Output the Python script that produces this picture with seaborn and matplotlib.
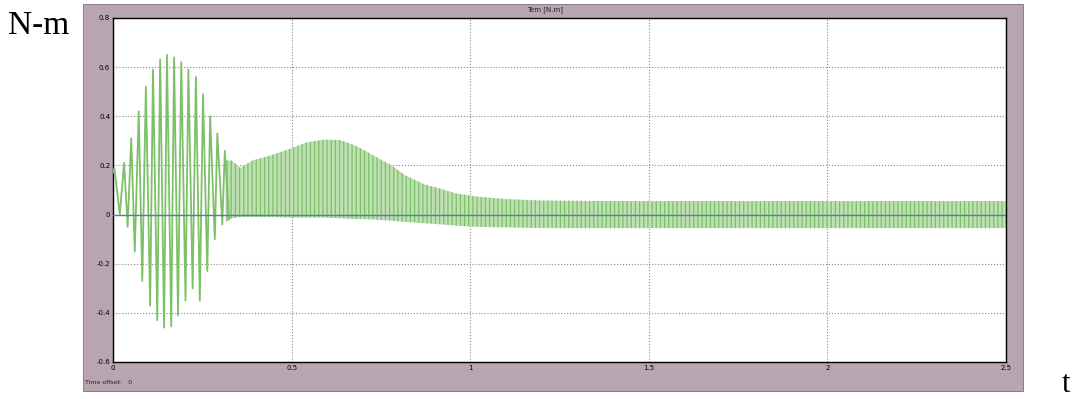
import numpy as np
import pandas as pd
import matplotlib
matplotlib.use("Agg")
import matplotlib.pyplot as plt
from matplotlib.patches import Rectangle
import seaborn as sns

# ---- data ----
title = "Tem [N.m]"
x_ticks = [0, 0.5, 1, 1.5, 2, 2.5]
x_labels = ["0", "0.5", "1", "1.5", "2", "2.5"]
y_ticks = [-0.6, -0.4, -0.2, 0, 0.2, 0.4, 0.6, 0.8]
y_labels = ["-0.6", "-0.4", "-0.2", "0", "0.2", "0.4", "0.6", "0.8"]

# start-up transient: individual peaks and troughs (s, N.m)
peak_t = [0.0, 0.004, 0.031, 0.051, 0.072, 0.092, 0.112, 0.132, 0.151, 0.171,
          0.191, 0.211, 0.232, 0.252, 0.272, 0.292, 0.313]
peak_v = [0.17, 0.19, 0.21, 0.31, 0.42, 0.52, 0.59, 0.63, 0.65, 0.64,
          0.62, 0.59, 0.56, 0.49, 0.40, 0.33, 0.26]
trough_t = [0.019, 0.041, 0.061, 0.082, 0.104, 0.124, 0.143, 0.163, 0.182,
            0.203, 0.223, 0.243, 0.264, 0.285, 0.306, 0.325]
trough_v = [0.0, -0.05, -0.15, -0.27, -0.37, -0.43, -0.46, -0.455, -0.41,
            -0.35, -0.30, -0.35, -0.23, -0.10, -0.04, -0.02]

# dense ripple afterwards: envelope of the band (s, N.m)
band_t = [0.315, 0.333, 0.356, 0.39, 0.44, 0.50, 0.54, 0.59, 0.636, 0.68,
          0.73, 0.78, 0.82, 0.87, 0.92, 0.96, 1.02, 1.10, 1.20, 1.40,
          1.60, 1.80, 2.00, 2.20, 2.40, 2.50]
band_hi = [0.22, 0.22, 0.19, 0.22, 0.24, 0.27, 0.293, 0.305, 0.303, 0.28,
           0.24, 0.20, 0.158, 0.124, 0.104, 0.086, 0.073, 0.063, 0.057, 0.055,
           0.055, 0.055, 0.055, 0.055, 0.055, 0.055]
band_lo = [-0.03, -0.015, -0.01, -0.01, -0.01, -0.012, -0.012, -0.012, -0.015, -0.018,
           -0.02, -0.025, -0.03, -0.035, -0.04, -0.045, -0.05, -0.052, -0.055, -0.055,
           -0.055, -0.055, -0.055, -0.055, -0.055, -0.055]

# ---- figure ----
sns.set_style("white")
plt.rcParams["hatch.linewidth"] = 0.9

W, H = 1073, 399
fig = plt.figure(figsize=(W / 100, H / 100), dpi=100, facecolor="white")

frame_col = "#b9a4b1"
fig.patches.append(Rectangle((83 / W, 1 - 391 / H), (1023 - 83) / W, (391 - 4) / H,
                             transform=fig.transFigure, facecolor=frame_col,
                             edgecolor="#7d6f78", linewidth=0.6, zorder=-5))

ax = fig.add_axes([113 / W, 1 - 362 / H, (1006 - 113) / W, (362 - 18) / H])
ax.set_zorder(2)
ax.set_facecolor("white")

green = "#7cc068"
light_green = "#bfe0b2"

# dense band
ax.fill_between(band_t, band_lo, band_hi, facecolor=light_green,
                edgecolor=green, hatch="||||", linewidth=0.0, zorder=2)

# transient
trans = pd.DataFrame({"t": peak_t + trough_t, "v": peak_v + trough_v}).sort_values("t")
sns.lineplot(data=trans, x="t", y="v", ax=ax, color=green, linewidth=1.3,
             sort=True, estimator=None, zorder=3)

ax.axhline(0, color="#4f7db3", linewidth=1.0, zorder=4)

ax.set_xlim(0, 2.5)
ax.set_ylim(-0.6, 0.8)
ax.set_xticks(x_ticks)
ax.set_xticklabels(x_labels)
ax.set_yticks(y_ticks)
ax.set_yticklabels(y_labels)
ax.tick_params(axis="both", direction="in", length=5, width=1, labelsize=5,
               colors="black", pad=2)
ax.grid(True, linestyle=":", color="#8a8a8a", linewidth=0.8)
ax.set_xlabel("")
ax.set_ylabel("")
for s in ax.spines.values():
    s.set_color("black")
    s.set_linewidth(1.0)

fig.text(545 / W, 1 - 10 / H, title, ha="center", va="center", fontsize=5,
         color="#222222")
fig.text(85 / W, 1 - 382 / H, "Time offset:   0", ha="left", va="center",
         fontsize=4.5, color="#222222")

fig.text(8 / W, 1 - 26 / H, "N-m", ha="left", va="center", fontsize=24,
         family="Liberation Serif", color="black")
fig.text(1066 / W, 1 - 384 / H, "t", ha="center", va="center", fontsize=22,
         family="Liberation Serif", color="black")

fig.savefig("out.png", dpi=100, facecolor="white")
